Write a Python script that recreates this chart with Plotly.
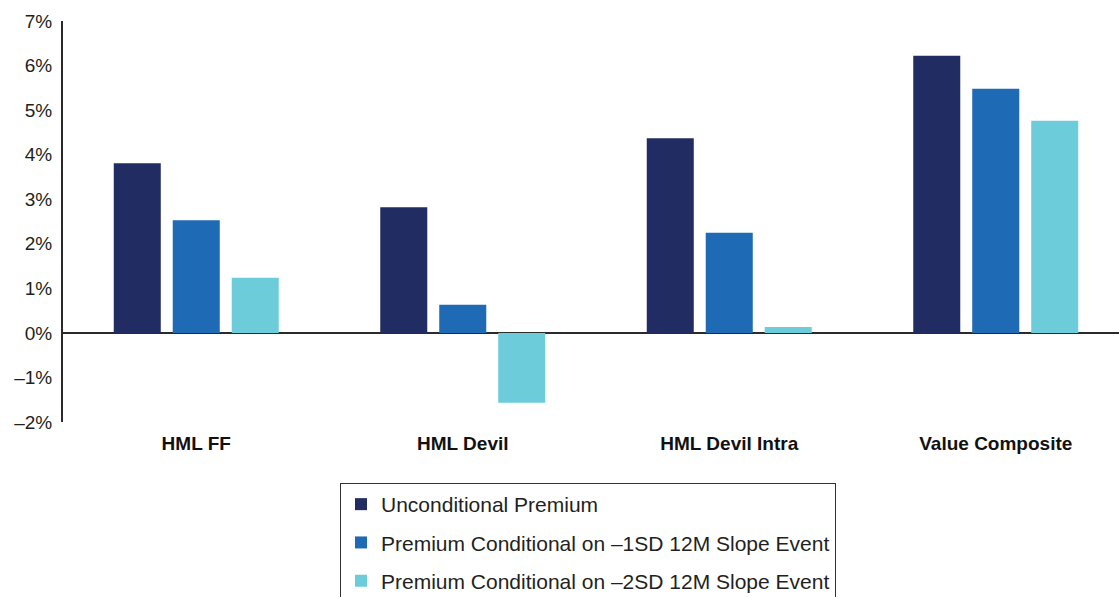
import plotly.graph_objects as go

categories = ["HML FF", "HML Devil", "HML Devil Intra", "Value Composite"]
unconditional = [3.81, 2.82, 4.37, 6.22]
cond_1sd = [2.53, 0.63, 2.25, 5.48]
cond_2sd = [1.24, -1.57, 0.13, 4.76]
series_names = [
    "Unconditional Premium",
    "Premium Conditional on \u20131SD 12M Slope Event",
    "Premium Conditional on \u20132SD 12M Slope Event",
]
colors = ["#212C62", "#1E6AB4", "#6CCCD9"]
tick_vals = [-2, -1, 0, 1, 2, 3, 4, 5, 6, 7]
tick_text = ["\u20132%", "\u20131%", "0%", "1%", "2%", "3%", "4%", "5%", "6%", "7%"]

text_color = "#231F20"
font_family = "Liberation Sans, Arial, sans-serif"

fig = go.Figure()
for i, (name, vals) in enumerate(zip(series_names, [unconditional, cond_1sd, cond_2sd])):
    fig.add_trace(go.Bar(
        x=categories, y=vals, name=name,
        marker=dict(color=colors[i], line=dict(width=0)),
        legendgroup=f"g{i}",
    ))

fig.update_layout(
    width=1119, height=597,
    margin=dict(l=63, r=0, t=21, b=175, autoexpand=False),
    paper_bgcolor="white", plot_bgcolor="white",
    barmode="group", bargap=0.336, bargroupgap=0.203,
    font=dict(family=font_family, color=text_color, size=18),
    showlegend=True,
    legend=dict(
        xref="container", yref="container",
        x=340 / 1119, xanchor="left",
        y=1 - 483 / 597, yanchor="top",
        bordercolor="#333333", borderwidth=1,
        font=dict(size=21, color=text_color),
        traceorder="grouped", tracegroupgap=8,
        bgcolor="white",
    ),
    xaxis=dict(
        type="category", range=[-0.5, -0.5 + 1056 / 266.5],
        showline=False, showgrid=False, ticks="",
        tickfont=dict(size=19, family=font_family, color="#111111", weight="bold"),
        ticklabelstandoff=8,
    ),
    yaxis=dict(
        range=[-2, 7.0], tickvals=tick_vals, ticktext=tick_text,
        showgrid=False, showline=True, linecolor="#2b2b2b", linewidth=2,
        zeroline=True, zerolinecolor="#2b2b2b", zerolinewidth=2,
        ticks="", ticklabelstandoff=5,
        tickfont=dict(size=19, family=font_family, color=text_color),
    ),
)

fig.write_html("out.html")
